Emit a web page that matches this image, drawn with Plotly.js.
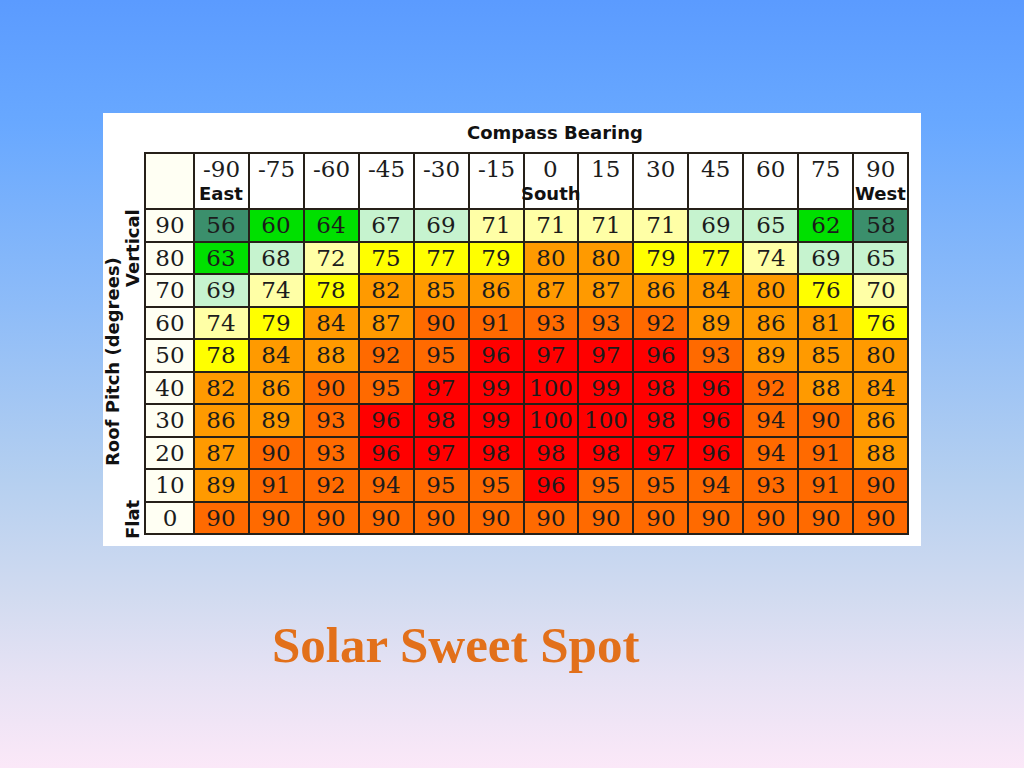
<!DOCTYPE html>
<html>
<head>
<meta charset="utf-8">
<script src="https://cdn.plot.ly/plotly-3.0.1.min.js"></script>
<style>
  html, body { margin: 0; padding: 0; }
  body {
    width: 1024px; height: 768px; overflow: hidden; position: relative;
    background: linear-gradient(to bottom, #5b9bff 0%, #68a8ff 16%, #8ebcf8 40%, #b4cff0 62%, #d2dbf0 78%, #e6e2f4 88%, #fbe8f8 100%);
  }
  #panel { position: absolute; left: 103px; top: 113px; width: 818px; height: 433px; background: #ffffff; }
  #chart { position: absolute; left: 0; top: 0; width: 1024px; height: 768px; }
</style>
</head>
<body>
<div id="panel"></div>
<div id="chart"></div>
<script>
// ---- data ----
const bearings = ["-90","-75","-60","-45","-30","-15","0","15","30","45","60","75","90"];
const bearingNames = ["East","","","","","","South","","","","","","West"];
const pitches = ["90","80","70","60","50","40","30","20","10","0"];
const pitchNames = ["Vertical","Flat"];
const pitch90 = [56,60,64,67,69,71,71,71,71,69,65,62,58];
const pitch80 = [63,68,72,75,77,79,80,80,79,77,74,69,65];
const pitch70 = [69,74,78,82,85,86,87,87,86,84,80,76,70];
const pitch60 = [74,79,84,87,90,91,93,93,92,89,86,81,76];
const pitch50 = [78,84,88,92,95,96,97,97,96,93,89,85,80];
const pitch40 = [82,86,90,95,97,99,100,99,98,96,92,88,84];
const pitch30 = [86,89,93,96,98,99,100,100,98,96,94,90,86];
const pitch20 = [87,90,93,96,97,98,98,98,97,96,94,91,88];
const pitch10 = [89,91,92,94,95,95,96,95,95,94,93,91,90];
const pitch0  = [90,90,90,90,90,90,90,90,90,90,90,90,90];
const xTitle = "Compass Bearing";
const yTitle = "Roof Pitch (degrees)";
const chartTitle = "Solar Sweet Spot";

const values = [pitch90,pitch80,pitch70,pitch60,pitch50,pitch40,pitch30,pitch20,pitch10,pitch0];

// ---- styles ----
const zmin = 55, zmax = 100;
const bands = [
  [55, 59.5, '#3b8f6c'],
  [59.5, 64.5, '#00e000'],
  [64.5, 69.5, '#c6f3cf'],
  [69.5, 74.5, '#ffffa6'],
  [74.5, 79.5, '#ffff00'],
  [79.5, 89.5, '#ff9a00'],
  [89.5, 95.5, '#ff6a00'],
  [95.5, 100, '#ff0000']
];
const colorscale = [];
bands.forEach(b => {
  colorscale.push([(b[0]-zmin)/(zmax-zmin), b[2]]);
  colorscale.push([(b[1]-zmin)/(zmax-zmin), b[2]]);
});

const W = 1024, H = 768;
const px = v => v / W;
const py = v => 1 - v / H;
const numFont = {family: 'DejaVu Serif', size: 23, color: '#1c1c1c'};
const boldFont = {family: 'DejaVu Sans', size: 18, color: '#111', weight: 'bold'};

const traces = [
  { // body
    type: 'heatmap', x: bearings, y: pitches, z: values,
    xaxis: 'x', yaxis: 'y',
    colorscale: colorscale, zmin: zmin, zmax: zmax, showscale: false,
    xgap: 2, ygap: 2, texttemplate: '%{z}', textfont: numFont, hoverinfo: 'skip'
  },
  { // header row
    type: 'heatmap', x: bearings, y: ['hdr'], z: [bearings.map(() => 0)],
    xaxis: 'x', yaxis: 'y2',
    colorscale: [[0,'#ffffff'],[1,'#ffffff']], zmin: 0, zmax: 1, showscale: false,
    xgap: 2, ygap: 2, hoverinfo: 'skip'
  },
  { // row label column
    type: 'heatmap', x: ['lbl'], y: pitches, z: pitches.map(() => [0]),
    text: pitches.map(p => [p]),
    xaxis: 'x2', yaxis: 'y',
    colorscale: [[0,'#fffff3'],[1,'#fffff3']], zmin: 0, zmax: 1, showscale: false,
    xgap: 2, ygap: 2, texttemplate: '%{text}', textfont: numFont, hoverinfo: 'skip'
  },
  { // corner
    type: 'heatmap', x: ['lbl'], y: ['hdr'], z: [[0]],
    xaxis: 'x2', yaxis: 'y2',
    colorscale: [[0,'#fffff3'],[1,'#fffff3']], zmin: 0, zmax: 1, showscale: false,
    xgap: 2, ygap: 2, hoverinfo: 'skip'
  }
];

const annotations = [];
bearings.forEach((b, i) => {
  annotations.push({x: i, y: 0, xref: 'x', yref: 'y2', text: b, showarrow: false,
    font: numFont, yshift: 12, xanchor: 'center', yanchor: 'middle'});
  if (bearingNames[i]) {
    annotations.push({x: i, y: 0, xref: 'x', yref: 'y2', text: '<b>' + bearingNames[i] + '</b>', showarrow: false,
      font: boldFont, yshift: -12, xanchor: 'center', yanchor: 'middle'});
  }
});
annotations.push({x: px(555), y: py(132), xref: 'paper', yref: 'paper', text: '<b>' + xTitle + '</b>',
  showarrow: false, font: boldFont, xanchor: 'center', yanchor: 'middle'});
annotations.push({x: px(112), y: py(362), xref: 'paper', yref: 'paper', text: '<b>' + yTitle + '</b>',
  showarrow: false, font: boldFont, textangle: -90, xanchor: 'center', yanchor: 'middle'});
annotations.push({x: px(132), y: py(248), xref: 'paper', yref: 'paper', text: '<b>' + pitchNames[0] + '</b>',
  showarrow: false, font: boldFont, textangle: -90, xanchor: 'center', yanchor: 'middle'});
annotations.push({x: px(132), y: py(519), xref: 'paper', yref: 'paper', text: '<b>' + pitchNames[1] + '</b>',
  showarrow: false, font: boldFont, textangle: -90, xanchor: 'center', yanchor: 'middle'});
annotations.push({x: px(455), y: py(645), xref: 'paper', yref: 'paper', text: '<b>' + chartTitle + '</b>',
  showarrow: false, font: {family: 'Liberation Serif', size: 51, color: '#e2701a'}, xanchor: 'center', yanchor: 'middle'});

const axBase = {type: 'category', showticklabels: false, showgrid: false, zeroline: false, ticks: '', fixedrange: true, showline: false};

const layout = {
  width: W, height: H,
  margin: {l: 0, r: 0, t: 0, b: 0, pad: 0},
  paper_bgcolor: 'rgba(0,0,0,0)',
  plot_bgcolor: '#262019',
  showlegend: false,
  xaxis: Object.assign({}, axBase, {domain: [px(194), px(908)], anchor: 'y'}),
  xaxis2: Object.assign({}, axBase, {domain: [px(145), px(194)], anchor: 'y'}),
  yaxis: Object.assign({}, axBase, {domain: [py(534), py(209)], anchor: 'x', autorange: 'reversed'}),
  yaxis2: Object.assign({}, axBase, {domain: [py(209), py(153)], anchor: 'x'}),
  annotations: annotations,
  shapes: [
    {type: 'rect', xref: 'paper', yref: 'paper', x0: px(145), x1: px(908), y0: py(534), y1: py(153),
     line: {color: '#262019', width: 2}, fillcolor: 'rgba(0,0,0,0)', layer: 'above'}
  ]
};

Plotly.newPlot('chart', traces, layout, {displayModeBar: false, staticPlot: true});
</script>
</body>
</html>
